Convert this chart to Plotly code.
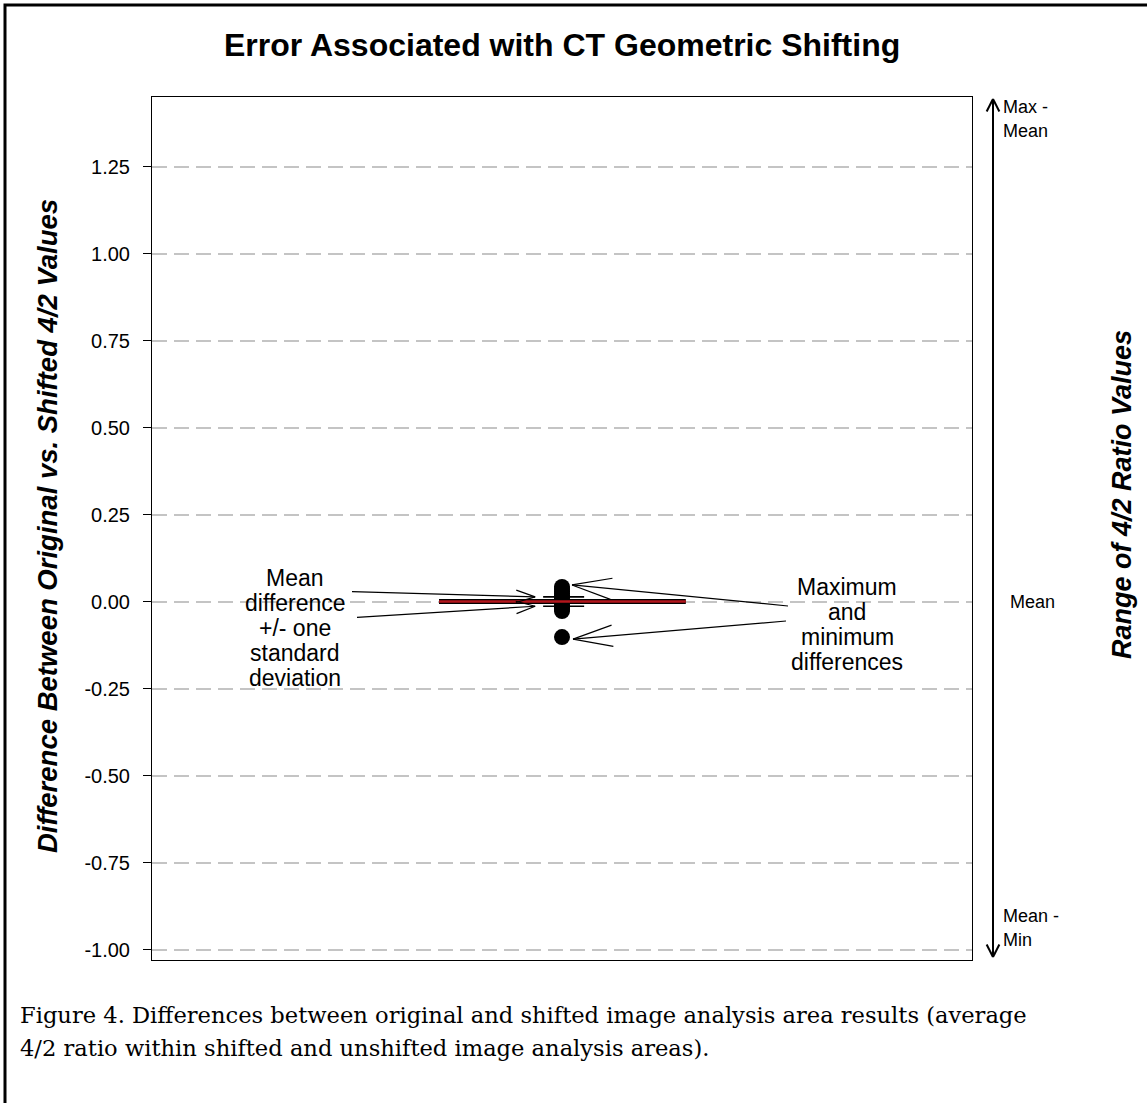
import math
import plotly.graph_objects as go

# ---------------- data ----------------
tick_vals = [-1.00, -0.75, -0.50, -0.25, 0.00, 0.25, 0.50, 0.75, 1.00, 1.25]
tick_text = ["-1.00", "-0.75", "-0.50", "-0.25", "0.00", "0.25", "0.50", "0.75", "1.00", "1.25"]
diff_points = [0.043, 0.037, 0.031, 0.025, 0.019, 0.013, 0.007, 0.002,
               -0.004, -0.010, -0.015, -0.020, -0.026, -0.101]
mean_diff = 0.001
sd_diff = 0.0135
center_x = 0.5
mean_bar_x = [0.35, 0.651]
cap_x = [0.477, 0.527]

left_note = ["Mean", "difference", "+/- one", "standard", "deviation"]
right_note = ["Maximum", "and", "minimum", "differences"]

# ---------------- geometry helpers ----------------
W, H = 1147, 1103
L, R, T, B = 152, 972, 97, 960
XR = [0.0, 1.0]
YR = [-1.029, 1.451]


def px_x(v):
    return L + (v - XR[0]) / (XR[1] - XR[0]) * (R - L)


def px_y(v):
    return T + (YR[1] - v) / (YR[1] - YR[0]) * (B - T)


def dx(px):
    return XR[0] + (px - L) / (R - L) * (XR[1] - XR[0])


def dy(py):
    return YR[1] - (py - T) / (B - T) * (YR[1] - YR[0])


def pap_x(px):
    return (px - L) / (R - L)


def pap_y(py):
    return (B - py) / (B - T)


fig = go.Figure()

# error caps (mean +/- sd)
for yv in (mean_diff + sd_diff, mean_diff - sd_diff):
    fig.add_trace(go.Scatter(x=cap_x, y=[yv, yv], mode="lines",
                             line=dict(color="black", width=1.6),
                             hoverinfo="skip", showlegend=False))

# individual differences
fig.add_trace(go.Scatter(x=[center_x] * len(diff_points), y=diff_points,
                         mode="markers",
                         marker=dict(color="black", size=16, line=dict(width=0)),
                         showlegend=False))

# mean bar (black outline + red fill)
fig.add_trace(go.Scatter(x=mean_bar_x, y=[mean_diff, mean_diff], mode="lines",
                         line=dict(color="black", width=5),
                         hoverinfo="skip", showlegend=False))
fig.add_trace(go.Scatter(x=mean_bar_x, y=[mean_diff, mean_diff], mode="lines",
                         line=dict(color="#b3161c", width=2.5),
                         hoverinfo="skip", showlegend=False))

shapes = []


def arrow_data(tail, tip, barb_len, barb_ang, width=1.2):
    """Open V arrow, pixel coordinates converted to data coordinates."""
    shapes.append(dict(type="line", xref="x", yref="y",
                       x0=dx(tail[0]), y0=dy(tail[1]), x1=dx(tip[0]), y1=dy(tip[1]),
                       line=dict(color="black", width=width)))
    ang = math.atan2(tail[1] - tip[1], tail[0] - tip[0])
    for s in (-1, 1):
        a = ang + s * math.radians(barb_ang)
        ex = tip[0] + barb_len * math.cos(a)
        ey = tip[1] + barb_len * math.sin(a)
        shapes.append(dict(type="line", xref="x", yref="y",
                           x0=dx(ex), y0=dy(ey), x1=dx(tip[0]), y1=dy(tip[1]),
                           line=dict(color="black", width=width)))


def arrow_paper(tail, tip, barb_len, barb_ang, width=2):
    shapes.append(dict(type="line", xref="paper", yref="paper",
                       x0=pap_x(tail[0]), y0=pap_y(tail[1]),
                       x1=pap_x(tip[0]), y1=pap_y(tip[1]),
                       line=dict(color="black", width=width)))
    ang = math.atan2(tail[1] - tip[1], tail[0] - tip[0])
    for s in (-1, 1):
        a = ang + s * math.radians(barb_ang)
        ex = tip[0] + barb_len * math.cos(a)
        ey = tip[1] + barb_len * math.sin(a)
        shapes.append(dict(type="line", xref="paper", yref="paper",
                           x0=pap_x(ex), y0=pap_y(ey),
                           x1=pap_x(tip[0]), y1=pap_y(tip[1]),
                           line=dict(color="black", width=width)))


cx_px = px_x(center_x)
cap_left_px = px_x(cap_x[0])
# left arrows -> mean +/- sd
arrow_data((352, 591.7), (cap_left_px - 8, px_y(mean_diff + sd_diff)), 20, 18)
arrow_data((357, 617.3), (cap_left_px - 8, px_y(mean_diff - sd_diff)), 20, 18)
# right arrows -> max / min
arrow_data((788, 606), (cx_px + 10, px_y(max(diff_points)) - 2), 41, 15)
arrow_data((786, 621), (cx_px + 11, px_y(min(diff_points)) + 2), 41, 15)

# right-hand range arrow (double headed)
arrow_paper((993, 528), (993, 99), 14, 27)
arrow_paper((993, 528), (993, 957), 14, 27)

# outer frame
shapes.append(dict(type="rect", xref="paper", yref="paper",
                   x0=pap_x(5), y0=pap_y(5), x1=pap_x(1200), y1=pap_y(1150),
                   line=dict(color="black", width=3), layer="below"))

annotations = []
FONT = "Liberation Sans, Arial, sans-serif"


def ann(text, px, py, size, xanchor="center", yanchor="middle", bold=False,
        italic=False, angle=0, family=FONT):
    if bold:
        text = "<b>" + text + "</b>"
    if italic:
        text = "<i>" + text + "</i>"
    annotations.append(dict(text=text, xref="paper", yref="paper",
                            x=pap_x(px), y=pap_y(py), xanchor=xanchor,
                            yanchor=yanchor, showarrow=False, textangle=angle,
                            font=dict(family=family, size=size, color="black")))


ann("Error Associated with CT Geometric Shifting", 562, 45, 32, bold=True)
ann("Difference Between Original vs. Shifted 4/2 Values", 47, 526, 27.5,
    bold=True, italic=True, angle=-90)
ann("Range of 4/2 Ratio Values", 1122, 495, 27, bold=True, italic=True, angle=-90)

for i, line in enumerate(left_note):
    ann(line, 295, 578 + 25 * i, 23)
for i, line in enumerate(right_note):
    ann(line, 847, 587 + 25 * i, 23)

ann("Max -", 1001, 107, 18, xanchor="left")
ann("Mean", 1001, 131, 18, xanchor="left")
ann("Mean", 1008, 602, 18, xanchor="left")
ann("Mean -", 1001, 916, 18, xanchor="left")
ann("Min", 1001, 940, 18, xanchor="left")

SERIF = "DejaVu Serif, Liberation Serif, serif"
ann("Figure 4. Differences between original and shifted image analysis area results (average",
    18, 1015, 22.6, xanchor="left", family=SERIF)
ann("4/2 ratio within shifted and unshifted image analysis areas).",
    18, 1048, 22.6, xanchor="left", family=SERIF)

fig.update_layout(
    width=W, height=H,
    margin=dict(l=L, r=W - R, t=T, b=H - B, pad=0),
    paper_bgcolor="white", plot_bgcolor="white",
    showlegend=False,
    shapes=shapes,
    annotations=annotations,
    xaxis=dict(range=XR, showgrid=False, zeroline=False, showticklabels=False,
               ticks="", showline=True, linecolor="black", linewidth=1,
               mirror=True, fixedrange=True),
    yaxis=dict(range=YR, tickvals=tick_vals, ticktext=tick_text,
               showgrid=True, gridcolor="#c4c4c4", gridwidth=1.5,
               griddash="15px,7px", zeroline=False,
               ticks="outside", ticklen=8, tickcolor="black", tickwidth=1,
               ticklabelstandoff=9,
               tickfont=dict(family=FONT, size=20, color="black"),
               showline=True, linecolor="black", linewidth=1, mirror=True,
               fixedrange=True),
)

fig.write_html("out.html", config={"displayModeBar": False},
               post_script="document.body.style.margin='0px';")
